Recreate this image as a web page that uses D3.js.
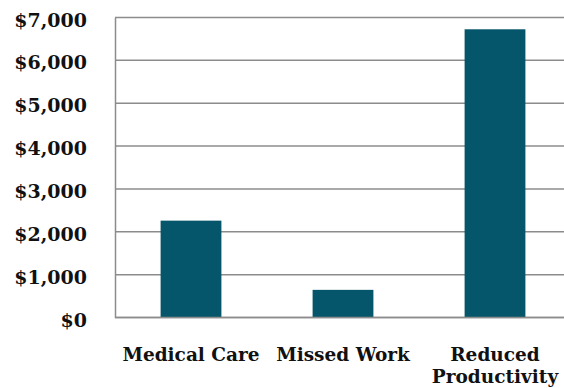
<!DOCTYPE html>
<html>
<head>
<meta charset="utf-8">
<script src="https://cdn.jsdelivr.net/npm/d3@7"></script>
<style>
  body { margin: 0; background: #fff; }
  svg text { font-family: "DejaVu Serif", serif; font-weight: bold; fill: #111; }
</style>
</head>
<body>
<svg width="564" height="388"></svg>
<script>
// chart data
var categories = ["Medical Care", "Missed Work", "Reduced Productivity"];
var values = [2260, 645, 6725];
var tickValues = [0, 1000, 2000, 3000, 4000, 5000, 6000, 7000];

var svg = d3.select("svg");

var margin = { top: 17.5, left: 115, bottom: 70.5 };
var plotWidth = 456;
var plotHeight = 300;

var x = d3.scaleBand()
    .domain(categories)
    .range([margin.left, margin.left + plotWidth])
    .paddingInner(0.6)
    .paddingOuter(0.3);

var y = d3.scaleLinear()
    .domain([0, 7000])
    .range([margin.top + plotHeight, margin.top]);

// gridlines
svg.append("g")
    .selectAll("line")
    .data(tickValues)
    .enter()
    .append("line")
    .attr("x1", margin.left)
    .attr("x2", 564)
    .attr("y1", function(d) { return y(d); })
    .attr("y2", function(d) { return y(d); })
    .attr("stroke", "#8c8c8c")
    .attr("stroke-width", 1.5);

// bars
svg.append("g")
    .selectAll("rect")
    .data(values)
    .enter()
    .append("rect")
    .attr("x", function(d, i) { return x(categories[i]); })
    .attr("width", x.bandwidth())
    .attr("y", function(d) { return y(d); })
    .attr("height", function(d) { return y(0) - y(d); })
    .attr("fill", "#05566b");

// y axis
var yAxis = d3.axisLeft(y)
    .tickValues(tickValues)
    .tickSize(0)
    .tickPadding(28)
    .tickFormat(function(d) { return "$" + d3.format(",")(d); });

var gy = svg.append("g")
    .attr("transform", "translate(" + margin.left + ",0)")
    .call(yAxis);
gy.select(".domain").attr("stroke", "#8c8c8c").attr("stroke-width", 1.5);
gy.selectAll("text").attr("font-size", 19).attr("dy", "0.45em").style("fill", "#111");

// bottom line
svg.append("line")
    .attr("x1", margin.left)
    .attr("x2", 564)
    .attr("y1", y(0))
    .attr("y2", y(0))
    .attr("stroke", "#8c8c8c")
    .attr("stroke-width", 1.5);

// category labels
var labels = svg.append("g")
    .selectAll("text")
    .data(categories)
    .enter()
    .append("text")
    .attr("text-anchor", "middle")
    .attr("font-size", 18.5)
    .attr("x", function(d) { return x(d) + x.bandwidth() / 2; })
    .attr("y", y(0) + 43);

labels.each(function(d) {
    var words = d === "Reduced Productivity" ? ["Reduced", "Productivity"] : [d];
    var t = d3.select(this);
    words.forEach(function(w, i) {
        t.append("tspan")
            .attr("x", t.attr("x"))
            .attr("dy", i === 0 ? 0 : 22)
            .text(w);
    });
});
</script>
</body>
</html>
